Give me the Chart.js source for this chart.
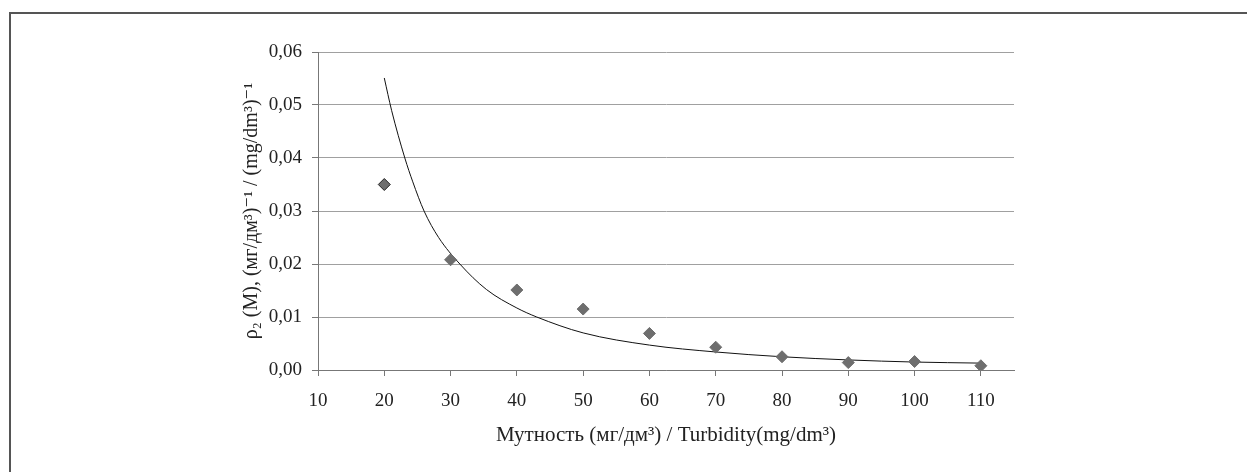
<!DOCTYPE html>
<html>
<head>
<meta charset="utf-8">
<script src="https://cdn.jsdelivr.net/npm/chart.js@4.4.1/dist/chart.umd.min.js"></script>
<style>
  html, body { margin: 0; padding: 0; background: #fff; }
  #wrap { position: relative; width: 1247px; height: 472px; }
  #frame { position: absolute; left: 9px; top: 12px; width: 1240px; height: 470px;
           border-top: 2px solid #555; border-left: 2px solid #555; pointer-events: none; }
  canvas { position: absolute; left: 0; top: 0; }
</style>
</head>
<body>
<div id="wrap">
  <canvas id="chart" width="1247" height="472"></canvas>
  <div id="frame"></div>
</div>
<script>
// measured points: turbidity vs rho2
const turbidity = [20, 30, 40, 50, 60, 70, 80, 90, 100, 110];
const rho2 = [0.035, 0.0208, 0.0151, 0.0115, 0.0069, 0.0043, 0.0025, 0.0014, 0.0016, 0.0008];

// trend curve
const trendX = [20, 21.1, 23.1, 24.3, 26.0, 28.2, 31.4, 35.4, 40, 43, 50, 60, 70, 80, 90, 100, 110];
const trendY = [0.0551, 0.049, 0.040, 0.0355, 0.030, 0.025, 0.020, 0.0152, 0.0117, 0.010, 0.0070, 0.0047, 0.0034, 0.0025, 0.0019, 0.0015, 0.0013];

const xTicks = [10, 20, 30, 40, 50, 60, 70, 80, 90, 100, 110];

const serif = "'Liberation Serif', 'DejaVu Serif', serif";

const ctx = document.getElementById('chart').getContext('2d');
new Chart(ctx, {
    type: 'scatter',
    data: {
        datasets: [
            {
                label: 'ρ2',
                data: turbidity.map((x, i) => ({ x: x, y: rho2[i] })),
                pointStyle: 'rectRot',
                pointRadius: 6,
                backgroundColor: '#6e6e6e',
                pointBorderColor: turbidity.map((x, i) => i === 0 ? '#222' : '#6e6e6e'),
                pointBorderWidth: 1,
                order: 1
            },
            {
                label: 'trend',
                data: trendX.map((x, i) => ({ x: x, y: trendY[i] })),
                showLine: true,
                pointRadius: 0,
                borderColor: '#111',
                borderWidth: 1,
                cubicInterpolationMode: 'monotone',
                order: 2
            }
        ]
    },
    options: {
        responsive: false,
        animation: false,
        layout: { padding: { left: 240, right: 233, top: 52, bottom: 24 } },
        plugins: {
            legend: { display: false },
            tooltip: { enabled: false }
        },
        scales: {
            x: {
                type: 'linear',
                min: 10,
                max: 115,
                afterBuildTicks: scale => {
                    scale.ticks = xTicks.map(v => ({ value: v }));
                },
                afterFit: scale => { scale.height = 78; },
                grid: { drawOnChartArea: false, tickLength: 6, tickColor: '#777' },
                border: { color: '#777', width: 1 },
                ticks: {
                    color: '#222',
                    padding: 14,
                    font: { family: serif, size: 19 }
                },
                title: {
                    display: true,
                    text: 'Мутность (мг/дм³) / Turbidity(mg/dm³)',
                    color: '#222',
                    padding: 0,
                    font: { family: serif, size: 21 }
                }
            },
            y: {
                min: 0,
                max: 0.06,
                afterFit: scale => { scale.width = 78; },
                grid: { color: '#a0a0a0', tickLength: 6, tickColor: '#777' },
                border: { color: '#777', width: 1 },
                ticks: {
                    stepSize: 0.01,
                    color: '#222',
                    padding: 10,
                    font: { family: serif, size: 19 },
                    callback: v => v.toFixed(2).replace('.', ',')
                },
                title: {
                    display: true,
                    text: 'ρ₂ (M), (мг/дм³)⁻¹ / (mg/dm³)⁻¹',
                    color: '#222',
                    padding: 0,
                    font: { family: serif, size: 20 }
                }
            }
        }
    }
});
</script>
</body>
</html>
